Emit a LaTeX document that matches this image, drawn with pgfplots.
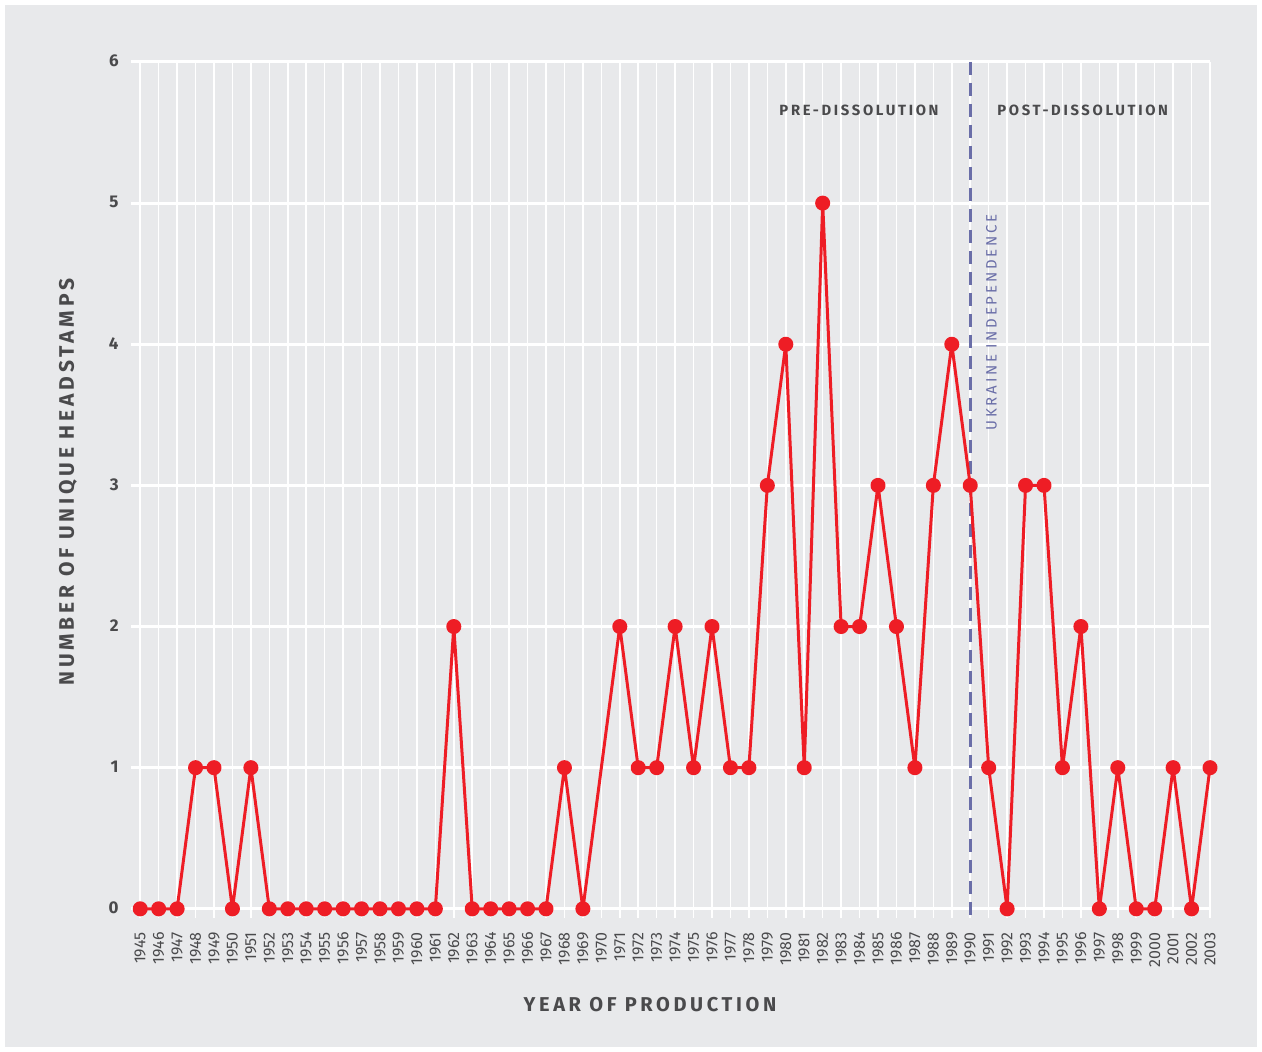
\documentclass[border=0pt]{standalone}
\usepackage{pgfplots}
\pgfplotsset{compat=1.18}
\usepackage{fontspec}
\setmainfont{Fira Sans}
\newfontfamily\spaced[LetterSpace=18]{Fira Sans}
\definecolor{bg}{HTML}{E8E9EB}
\definecolor{txt}{HTML}{4A4A4C}
\definecolor{linered}{HTML}{EE1D25}
\definecolor{slate}{HTML}{6A6EA8}

\begin{document}
\begin{tikzpicture}[x=1pt,y=1pt]
% outer frame and chart background (1px = 0.5pt)
\fill[white] (-65.5,-67) rectangle (565.5,459);
\fill[bg] (-63,-64.5) rectangle (563,456.5);
\begin{axis}[
    at={(0,0)}, anchor=south west,
    scale only axis,
    width=539.5pt, height=428pt,
    xmin=1944.5, xmax=2003,
    ymin=-0.065, ymax=6,
    axis line style={draw=none},
    major tick length=0pt,
    xtick={1945,1946,...,2003},
    ytick={0,1,...,6},
    xticklabel={\pgfmathprintnumber[1000 sep={}]{\tick}},
    /pgf/number format/assume math mode=true,
    xticklabel style={rotate=90, anchor=east, inner sep=0pt, font=\fontsize{8}{9}\selectfont, text=txt},
    xticklabel shift=7pt,
    yticklabel style={anchor=east, inner sep=0pt, xshift=-6pt, yshift=0.5pt, font=\fontsize{8.5}{9}\selectfont\bfseries, text=txt},
    grid=major,
    x grid style={white, line width=0.8pt},
    y grid style={white, line width=1.5pt},
    clip=false,
]
% Ukraine independence marker
\draw[slate, line width=1.5pt, dash pattern=on 6.5pt off 4pt] (axis cs:1990,6) -- (axis cs:1990,-0.065);

\addplot[color=linered, line width=1.5pt, line join=round, mark=*, mark size=3pt,
    mark options={fill=linered, draw=linered}] coordinates {
    (1945,0) (1946,0) (1947,0) (1948,1) (1949,1) (1950,0) (1951,1) (1952,0)
    (1953,0) (1954,0) (1955,0) (1956,0) (1957,0) (1958,0) (1959,0) (1960,0)
    (1961,0) (1962,2) (1963,0) (1964,0) (1965,0) (1966,0) (1967,0) (1968,1)
    (1969,0) (1971,2) (1972,1) (1973,1) (1974,2) (1975,1) (1976,2) (1977,1)
    (1978,1) (1979,3) (1980,4) (1981,1) (1982,5) (1983,2) (1984,2) (1985,3)
    (1986,2) (1987,1) (1988,3) (1989,4) (1990,3) (1991,1) (1992,0) (1993,3)
    (1994,3) (1995,1) (1996,2) (1997,0) (1998,1) (1999,0) (2000,0) (2001,1)
    (2002,0) (2003,1)
};

\node[anchor=east, inner sep=0pt, text=txt, font=\spaced\bfseries\fontsize{7.4}{8}\selectfont]
    at (axis cs:1988.3,5.66) {PRE-DISSOLUTION};
\node[anchor=west, inner sep=0pt, text=txt, font=\spaced\bfseries\fontsize{7.4}{8}\selectfont]
    at (axis cs:1991.45,5.66) {POST-DISSOLUTION};
\node[rotate=90, anchor=east, inner sep=0pt, text=slate, font=\spaced\fontsize{7.5}{8}\selectfont]
    at (axis cs:1991.15,4.92) {UKRAINE INDEPENDENCE};

\node[rotate=90, inner sep=0pt, text=txt, font=\spaced\bfseries\fontsize{10.5}{11}\selectfont]
    at (axis description cs:-0.0584,0.509) {NUMBER OF UNIQUE HEADSTAMPS};
\node[inner sep=0pt, text=txt, font=\spaced\bfseries\fontsize{10}{11}\selectfont]
    at (axis description cs:0.481,-0.1016) {YEAR OF PRODUCTION};
\end{axis}
\end{tikzpicture}
\end{document}
